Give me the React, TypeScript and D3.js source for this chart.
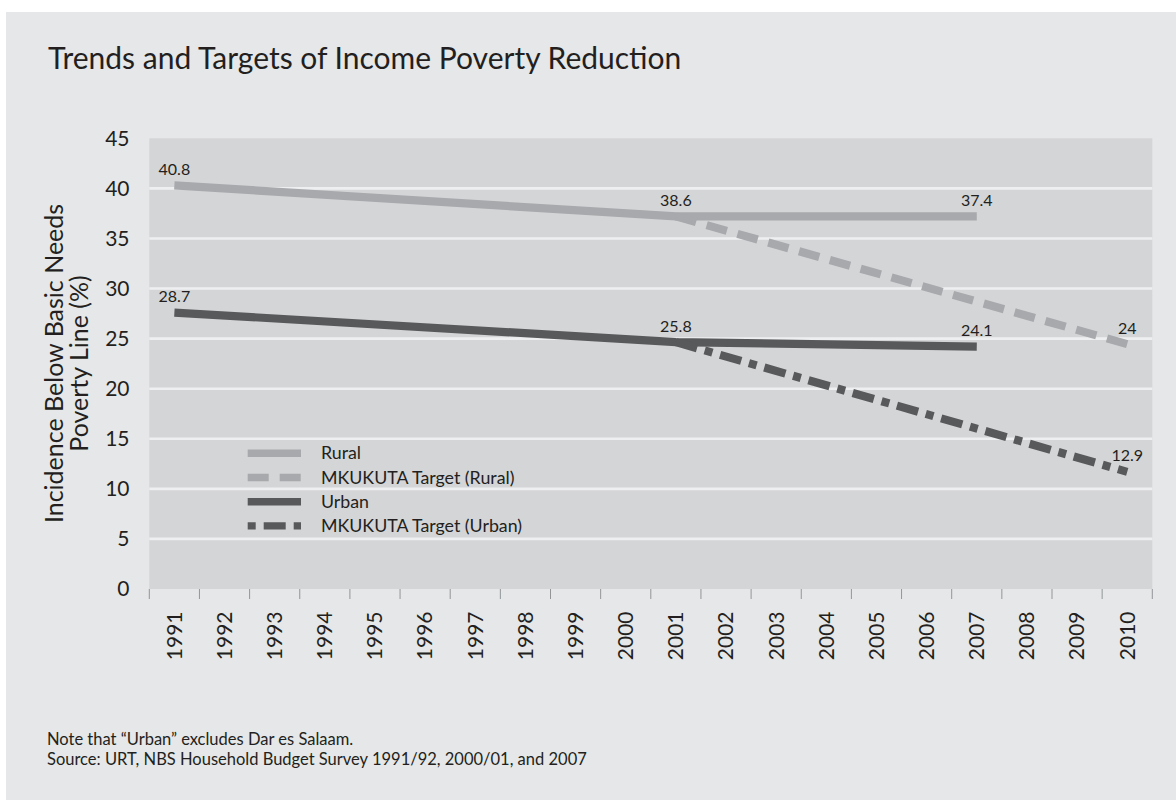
import React from "react";
import * as d3 from "d3";

const years = ["1991","1992","1993","1994","1995","1996","1997","1998","1999","2000","2001","2002","2003","2004","2005","2006","2007","2008","2009","2010"];
const yTicks = [0, 5, 10, 15, 20, 25, 30, 35, 40, 45];

const ruralYears = ["1991", "2001", "2007"];
const ruralValues = [40.3, 37.2, 37.2];
const ruralLabels = ["40.8", "38.6", "37.4"];

const urbanYears = ["1991", "2001", "2007"];
const urbanValues = [27.6, 24.65, 24.2];
const urbanLabels = ["28.7", "25.8", "24.1"];

const ruralTargetYears = ["2001", "2010"];
const ruralTargetValues = [37.2, 24.45];
const ruralTargetLabels = ["", "24"];

const urbanTargetYears = ["2001", "2010"];
const urbanTargetValues = [24.65, 11.7];
const urbanTargetLabels = ["", "12.9"];

const legendLabels = ["Rural", "MKUKUTA Target (Rural)", "Urban", "MKUKUTA Target (Urban)"];

const FONT = "Lato, 'Open Sans', sans-serif";
const RURAL = "#a7a9ac";
const URBAN = "#58595b";
const TEXT = "#231f20";

export default function App() {
  const W = 1176, H = 800;
  const left = 149.3, right = 1152.3, top = 138.3, bottom = 589;
  const x = d3.scaleBand<string>().domain(years).range([left, right]);
  const xc = (yr: string) => (x(yr) as number) + x.bandwidth() / 2;
  const y = d3.scaleLinear().domain([0, 45]).range([bottom, top]);
  const line = d3.line<[string, number]>().x(d => xc(d[0])).y(d => y(d[1]));

  const series = [
    { yrs: ruralYears, vals: ruralValues, labels: ruralLabels, color: RURAL, dash: undefined as string | undefined },
    { yrs: urbanYears, vals: urbanValues, labels: urbanLabels, color: URBAN, dash: undefined },
    { yrs: ruralTargetYears, vals: ruralTargetValues, labels: ruralTargetLabels, color: RURAL, dash: "21,11" },
    { yrs: urbanTargetYears, vals: urbanTargetValues, labels: urbanTargetLabels, color: URBAN, dash: "22,8,8,8" },
  ];
  const legendStyles = [
    { color: RURAL, dash: undefined as string | undefined, offset: 0 },
    { color: RURAL, dash: "21,11", offset: 0 },
    { color: URBAN, dash: undefined, offset: 0 },
    { color: URBAN, dash: "22,8,8,8", offset: 30 },
  ];
  const tickXs = [...years.map(yr => x(yr) as number), right];

  return (
    <div style={{ position: "absolute", left: 0, top: 0 }}>
      <svg width={W} height={H} style={{ display: "block", background: "#ffffff" }} fontFamily={FONT}>
        <rect x={6} y={12} width={W - 6} height={H - 12} fill="#e6e7e8" />
        <text x={48} y={68.5} fontSize={30} fill={TEXT}>Trends and Targets of Income Poverty Reduction</text>

        <rect x={left} y={top} width={right - left} height={bottom - top} fill="#d4d5d7" />
        {yTicks.filter(t => t > 0 && t < 45).map(t => (
          <line key={t} x1={left} x2={right} y1={y(t)} y2={y(t)} stroke="#eeeff0" strokeWidth={2.6} />
        ))}
        {yTicks.map(t => (
          <text key={t} x={129.5} y={y(t)} dy="0.35em" textAnchor="end" fontSize={21} fill={TEXT}>{t}</text>
        ))}
        {tickXs.map((tx, i) => (
          <line key={i} x1={tx} x2={tx} y1={bottom} y2={bottom + 10} stroke="#939598" strokeWidth={1} />
        ))}
        {years.map(yr => (
          <text key={yr} transform={`translate(${xc(yr)},${611.5}) rotate(-90)`} dy="0.35em" textAnchor="end" fontSize={21} fill={TEXT}>{yr}</text>
        ))}

        <g transform="translate(62.5,363.5) rotate(-90)">
          <text x={0} y={0} textAnchor="middle" fontSize={25} fill={TEXT}>Incidence Below Basic Needs</text>
          <text x={0} y={25.5} textAnchor="middle" fontSize={25} fill={TEXT}>Poverty Line (%)</text>
        </g>

        {series.map((s, i) => (
          <path key={i} d={line(s.yrs.map((yr, j) => [yr, s.vals[j]] as [string, number])) || ""}
            fill="none" stroke={s.color} strokeWidth={8.2} strokeDasharray={s.dash} strokeLinecap="butt" strokeLinejoin="miter" />
        ))}
        {series.map((s, i) => s.yrs.map((yr, j) => s.labels[j] ? (
          <text key={`${i}-${j}`} x={xc(yr)} y={y(s.vals[j]) - 10.5} textAnchor="middle" fontSize={16} fill={TEXT}>{s.labels[j]}</text>
        ) : null))}

        {legendLabels.map((lab, i) => {
          const ly = 453.3 + i * 24.2;
          const st = legendStyles[i];
          return (
            <g key={lab}>
              <line x1={247.7} x2={301} y1={ly} y2={ly} stroke={st.color} strokeWidth={7.4} strokeDasharray={st.dash} strokeDashoffset={st.offset} />
              <text x={321} y={ly + 6} fontSize={17.8} fill={TEXT}>{lab}</text>
            </g>
          );
        })}

        <text x={47} y={745} fontSize={16.5} fill={TEXT}>Note that “Urban” excludes Dar es Salaam.</text>
        <text x={47} y={765} fontSize={16.5} fill={TEXT}>Source: URT, NBS Household Budget Survey 1991/92, 2000/01, and 2007</text>
      </svg>
    </div>
  );
}
